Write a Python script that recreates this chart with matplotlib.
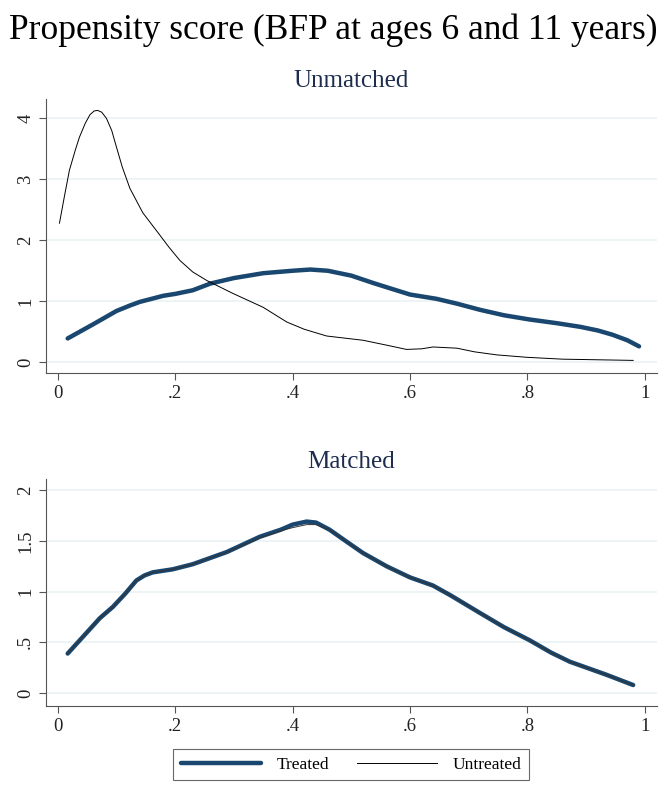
import matplotlib
matplotlib.use('Agg')
import matplotlib.pyplot as plt

plt.rcParams['font.family'] = ['Liberation Serif', 'DejaVu Serif']

# Unmatched densities
un_treat_x = [0.017, 0.06, 0.10, 0.123, 0.14, 0.16, 0.18, 0.2, 0.23, 0.26, 0.30, 0.35, 0.40, 0.43,
              0.46, 0.50, 0.537, 0.57, 0.6, 0.645, 0.68, 0.719, 0.76, 0.804, 0.85, 0.89, 0.92,
              0.945, 0.97, 0.99]
un_treat_y = [0.39, 0.62, 0.84, 0.93, 0.99, 1.04, 1.09, 1.12, 1.18, 1.29, 1.38, 1.46, 1.50, 1.52,
              1.50, 1.42, 1.30, 1.20, 1.11, 1.04, 0.96, 0.86, 0.77, 0.70, 0.64, 0.58, 0.52,
              0.45, 0.36, 0.26]
un_ctrl_x = [0.003, 0.012, 0.02, 0.03, 0.037, 0.047, 0.055, 0.062, 0.068, 0.075, 0.083, 0.092,
             0.1, 0.11, 0.123, 0.145, 0.168, 0.19, 0.208, 0.23, 0.254, 0.298, 0.35, 0.39,
             0.42, 0.458, 0.52, 0.56, 0.594, 0.62, 0.639, 0.68, 0.71, 0.748, 0.80, 0.86, 0.98]
un_ctrl_y = [2.28, 2.75, 3.15, 3.48, 3.69, 3.92, 4.06, 4.12, 4.13, 4.10, 4.0, 3.80,
             3.53, 3.20, 2.85, 2.45, 2.16, 1.88, 1.67, 1.48, 1.34, 1.13, 0.90, 0.66,
             0.54, 0.43, 0.36, 0.28, 0.21, 0.22, 0.25, 0.23, 0.17, 0.12, 0.08, 0.05, 0.03]

# Matched densities
m_treat_x = [0.017, 0.072, 0.094, 0.115, 0.134, 0.148, 0.162, 0.196, 0.23, 0.288, 0.344, 0.38,
             0.40, 0.424, 0.44, 0.463, 0.49, 0.52, 0.56, 0.6, 0.639, 0.67, 0.719, 0.76, 0.804,
             0.84, 0.872, 0.935, 0.98]
m_treat_y = [0.39, 0.74, 0.85, 0.98, 1.11, 1.16, 1.19, 1.22, 1.27, 1.39, 1.54, 1.61,
             1.66, 1.69, 1.68, 1.61, 1.50, 1.38, 1.25, 1.14, 1.06, 0.96, 0.79, 0.65, 0.52,
             0.40, 0.31, 0.18, 0.08]
m_ctrl_x = m_treat_x
m_ctrl_y = [0.39, 0.74, 0.85, 0.98, 1.11, 1.16, 1.19, 1.22, 1.27, 1.39, 1.53, 1.60,
            1.63, 1.66, 1.66, 1.61, 1.50, 1.38, 1.25, 1.14, 1.06, 0.96, 0.79, 0.65, 0.52,
            0.40, 0.31, 0.18, 0.08]

xticks = [0, 0.2, 0.4, 0.6, 0.8, 1.0]
xlabels = ['0', '.2', '.4', '.6', '.8', '1']

navy = '#1a476f'
grid_c = '#eaf2f3'
title_c = '#1e2d4f'

fig = plt.figure(figsize=(6.66, 7.89), dpi=100)
ax1 = fig.add_axes([0.069, 0.527, 0.917, 0.347])
ax2 = fig.add_axes([0.069, 0.105, 0.917, 0.288])

ax1.plot(un_treat_x, un_treat_y, color=navy, lw=3.2, solid_capstyle='round', label='Treated')
ax1.plot(un_ctrl_x, un_ctrl_y, color='black', lw=0.7, label='Untreated')
ax2.plot(m_treat_x, m_treat_y, color=navy, lw=3.2, solid_capstyle='round')
ax2.plot(m_ctrl_x, m_ctrl_y, color='#333333', lw=0.7)

ax1.set_ylim(-0.18, 4.31)
ax1.set_yticks([0, 1, 2, 3, 4])
ax1.set_yticklabels(['0', '1', '2', '3', '4'])
ax2.set_ylim(-0.128, 2.11)
ax2.set_yticks([0, 0.5, 1, 1.5, 2])
ax2.set_yticklabels(['0', '.5', '1', '1.5', '2'])

for ax in (ax1, ax2):
    ax.set_xlim(-0.02, 1.02)
    ax.set_xticks(xticks)
    ax.set_xticklabels(xlabels)
    ax.grid(axis='y', color=grid_c, lw=1.2)
    ax.set_axisbelow(True)
    ax.spines['top'].set_visible(False)
    ax.spines['right'].set_visible(False)
    ax.spines['left'].set_color('#555555')
    ax.spines['bottom'].set_color('#555555')
    ax.tick_params(length=5, color='#555555', labelsize=13.5, labelcolor='#222222')
    for lab in ax.get_yticklabels():
        lab.set_rotation(90)
        lab.set_va('center')

ax1.set_title('Unmatched', fontsize=18, color=title_c, pad=9)
ax2.set_title('Matched', fontsize=18, color=title_c, pad=8)

fig.text(0.5, 0.962, 'Propensity score (BFP at ages 6 and 11 years)', ha='center', va='center',
         fontsize=25.5, color='black')

leg = fig.legend(loc='center', bbox_to_anchor=(0.527, 0.031), ncol=2, fontsize=12.5,
                 frameon=True, fancybox=False, edgecolor='#444444', handlelength=4.6,
                 columnspacing=1.6, borderpad=0.45, handletextpad=0.9)
leg.get_frame().set_linewidth(0.8)

plt.savefig('out.png', dpi=100)
